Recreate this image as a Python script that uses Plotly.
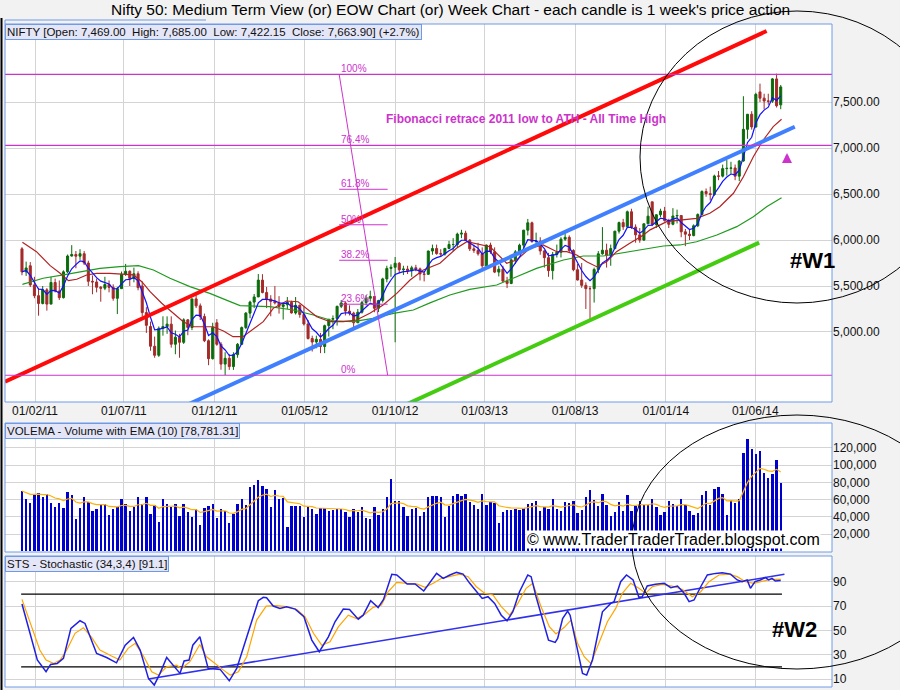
import numpy as np
import pandas as pd
import plotly.graph_objects as go

# weekly candles, the first one is the week starting Monday 10 Jan 2011
first_week = pd.Timestamp("2011-01-10")

nifty_open = [
    5904, 5654, 5720, 5512, 5395, 5310, 5458, 5303, 5538, 5445, 5373, 5654, 5826, 5842, 5824, 5851, 5749, 5551, 5544, 5486,
    5476, 5516, 5485, 5366, 5471, 5627, 5660, 5581, 5633, 5500, 5211, 5060, 4845, 4747, 5040, 5059, 5085, 4867, 4943, 4888,
    5132, 5049, 5360, 5284, 5168, 4905, 4710, 5100, 4866, 4651, 4714,
    4624, 4754, 4866, 5048, 5205, 5325, 5381, 5564, 5429, 5359, 5333, 5317, 5278, 5296, 5322, 5207, 5290, 5190, 5087, 4929,
    4891, 4920, 4842, 5069, 5139, 5146, 5279, 5316, 5227, 5205, 5100, 5215, 5320, 5366, 5386, 5258, 5342, 5577, 5691, 5703,
    5747, 5676, 5684, 5665, 5698, 5686, 5631, 5627, 5880, 5907, 5852, 5847, 5908,
    5951, 5951, 6064, 6074, 5998, 5904, 5887, 5850, 5719, 5945, 5872, 5651, 5683, 5553, 5528, 5784, 5871, 5944, 6107, 6187,
    5983, 5986, 5881, 5808, 5667, 5842, 5867, 6009, 6029, 5886, 5677, 5565, 5507, 5471, 5471, 5680, 5850, 5889, 5833, 5907,
    6096, 6189, 6144, 6307, 6140, 6056, 5999, 6176, 6415, 6168, 6274, 6314,
    6211, 6171, 6261, 6266, 6089, 6063, 6048, 6155, 6277, 6527, 6504, 6494, 6696, 6694, 6776, 6779, 6783, 6694, 6859, 7203,
    7367, 7229, 7610, 7542, 7511, 7509, 7751, 7469,
]
nifty_high = [
    5922, 5765, 5760, 5600, 5480, 5500, 5477, 5599, 5580, 5560, 5670, 5842, 5944, 5880, 5900, 5880, 5775, 5615, 5581, 5500,
    5600, 5560, 5518, 5490, 5657, 5740, 5670, 5700, 5660, 5550, 5270, 5113, 4950, 5060, 5170, 5170, 5170, 5016, 4980, 5149,
    5140, 5360, 5400, 5310, 5200, 4920, 5100, 5140, 4890, 4780, 4760,
    4780, 4880, 5060, 5217, 5340, 5413, 5630, 5629, 5490, 5400, 5499, 5390, 5320, 5380, 5340, 5380, 5300, 5280, 5130, 4960,
    4960, 4990, 5080, 5140, 5180, 5286, 5348, 5330, 5290, 5220, 5250, 5340, 5400, 5449, 5390, 5350, 5590, 5720, 5735, 5815,
    5760, 5720, 5720, 5720, 5730, 5700, 5650, 5885, 5950, 5950, 5900, 5915, 5990,
    6020, 6080, 6111, 6101, 6010, 5950, 5970, 5920, 5950, 5971, 5920, 5720, 5720, 5600, 5800, 5890, 5960, 6110, 6229, 6200,
    6080, 6030, 5890, 5860, 5870, 5950, 6030, 6093, 6050, 5900, 5740, 5750, 5540, 5500, 5700, 5880, 6140, 5960, 5950, 6100,
    6200, 6230, 6320, 6340, 6170, 6130, 6180, 6363, 6415, 6280, 6340, 6360,
    6230, 6346, 6330, 6270, 6120, 6120, 6170, 6290, 6540, 6560, 6580, 6710, 6750, 6820, 6870, 6850, 6820, 6870, 7563, 7370,
    7400, 7600, 7700, 7590, 7590, 7760, 7808, 7685,
]
nifty_low = [
    5617, 5610, 5489, 5367, 5177, 5300, 5232, 5303, 5430, 5348, 5364, 5640, 5819, 5693, 5784, 5728, 5500, 5410, 5431, 5329,
    5455, 5431, 5340, 5195, 5470, 5610, 5500, 5540, 5453, 5168, 4990, 4796, 4720, 4730, 4960, 4980, 4830, 4758, 4720, 4870,
    4965, 5020, 5260, 5130, 4890, 4639, 4700, 4850, 4590, 4531, 4588,
    4588, 4720, 4860, 5032, 5150, 5260, 5380, 5420, 5260, 5171, 5300, 5200, 5135, 5250, 5200, 5190, 5155, 5070, 4918, 4788,
    4823, 4770, 4770, 4950, 5030, 5070, 5260, 5180, 5180, 5032, 5100, 5200, 5290, 5330, 5215, 5216, 5320, 5540, 5600, 4888,
    5640, 5620, 5630, 5600, 5660, 5560, 5550, 5620, 5840, 5840, 5820, 5830, 5900,
    5880, 5920, 6020, 5990, 5880, 5860, 5830, 5670, 5700, 5850, 5640, 5604, 5540, 5477, 5520, 5740, 5860, 5910, 6050, 5970,
    5960, 5840, 5700, 5600, 5570, 5810, 5810, 5990, 5870, 5660, 5560, 5480, 5250, 5119, 5320, 5640, 5840, 5700, 5720, 5900,
    6070, 6110, 6140, 6120, 5970, 5970, 5990, 6170, 6150, 6130, 6250, 6200,
    6130, 6160, 6180, 6030, 5933, 6000, 6040, 6140, 6270, 6470, 6430, 6480, 6650, 6680, 6700, 6720, 6650, 6640, 6850, 7100,
    7200, 7220, 7500, 7420, 7470, 7490, 7440, 7422,
]
nifty_close = [
    5654, 5696, 5512, 5395, 5310, 5458, 5303, 5538, 5445, 5373, 5654, 5826, 5842, 5824, 5851, 5749, 5551, 5544, 5486, 5476,
    5516, 5485, 5366, 5471, 5627, 5660, 5581, 5633, 5482, 5211, 5072, 4845, 4747, 5040, 5059, 5085, 4867, 4943, 4888, 5132,
    5049, 5360, 5284, 5168, 4905, 4710, 5050, 4866, 4651, 4714, 4624,
    4754, 4866, 5048, 5205, 5325, 5381, 5564, 5429, 5359, 5333, 5317, 5278, 5296, 5322, 5207, 5290, 5190, 5087, 4929, 4891,
    4920, 4842, 5069, 5139, 5146, 5279, 5316, 5227, 5205, 5100, 5215, 5320, 5366, 5386, 5258, 5342, 5577, 5691, 5703, 5747,
    5676, 5684, 5665, 5698, 5686, 5631, 5627, 5880, 5907, 5852, 5847, 5908, 5951,
    5951, 6064, 6074, 5998, 5904, 5887, 5850, 5719, 5945, 5872, 5651, 5683, 5553, 5528, 5784, 5871, 5944, 6107, 6187, 5983,
    5986, 5881, 5808, 5667, 5842, 5867, 6009, 6029, 5886, 5677, 5565, 5507, 5471, 5471, 5680, 5850, 5889, 5833, 5907, 6096,
    6189, 6144, 6307, 6140, 6056, 5999, 6176, 6259, 6168, 6274, 6314, 6211,
    6171, 6261, 6266, 6089, 6063, 6048, 6155, 6277, 6527, 6504, 6494, 6696, 6694, 6776, 6779, 6783, 6694, 6859, 7203, 7367,
    7229, 7583, 7542, 7511, 7509, 7751, 7459, 7664,
]
volume = [
    70000, 60700, 56000, 66500, 67600, 63000, 66500, 56000, 51400, 56000, 50600, 68800, 65300, 37400, 50600, 63000, 57200,
    46700, 49000, 54400, 54400, 42000, 49000, 51400, 60700, 54400, 46700, 51400, 63000, 54400, 63000, 42800, 53700, 33900,
    60700, 54400, 51400, 54400, 40900, 54400, 45500, 39800, 49000, 30400, 50600, 52100, 54400, 38600, 49000, 46700, 32400,
    42800, 54400, 60700, 53700, 74600, 76900, 82300, 75800, 72300, 51400, 70800, 60700, 61900, 28100, 52600, 52600, 52600,
    39800, 52600, 49000, 43200, 49800, 49800, 46700, 47500, 49000, 49000, 45900, 39800, 49000, 45900, 51400, 38600, 37400,
    51400, 42000, 49000, 63000, 83900, 58300, 58300, 51400, 40900, 49000, 50200, 40900, 45500, 63000,
    64100, 64100, 63000, 39800, 52600, 64100, 66500, 64100, 66500, 57200, 53700, 49000, 66500, 53700, 57200, 56000, 32700,
    45500, 47900, 47900, 49000, 47900, 50200, 54900, 56000, 58300, 46700, 51400, 49000, 60700, 49000, 46700, 57200, 56000,
    58300, 44400, 47900, 63000, 71100, 59500, 52600, 66500, 53700, 40900, 45500, 57200, 46700, 65300, 46700, 52600, 58300,
    53700, 53700, 60700, 51400, 42000, 45500, 58300, 54900, 52600, 60700, 53700, 46700, 42000, 44400, 65300, 70000, 53700,
    72300, 74600, 66500, 42000, 59500, 56000, 60700, 114100, 130400, 118800, 113000, 116500, 90900, 85100, 89700, 106000,
    78800,
]

# moving averages (week number from first candle, price)
ma_mid_weeks = [0.1, 3.5, 6.8, 9.2, 11.2, 13.2, 15.6, 18, 21.2, 23.6, 26.9, 28.9, 30.9, 33.7, 36.5, 38.9, 41.3, 43.7,
                46.1, 48.6, 50.9, 53.3, 58.2, 60.6, 63.8, 66.6, 68.7, 71.1, 74.3, 77.5, 80.7, 83.9, 87.1, 90.4, 93.6,
                96.8, 100.8, 104.8, 107.3, 110.5, 112.9, 114.5, 116.9, 119.3, 122.5, 125.7, 129, 131.4, 133.8, 136.2,
                138.6, 141, 143.4, 146.6, 149.9, 151.5, 155.5, 158.7, 162.7, 165.9, 168.3, 171.6, 174, 176.4, 178.8,
                181.2, 183.2]
ma_mid_price = [5975, 5873, 5721, 5638, 5558, 5573, 5620, 5638, 5638, 5630, 5620, 5547, 5438, 5312, 5203, 5112, 5057,
                5057, 5057, 5011, 4949, 4949, 5112, 5257, 5337, 5329, 5257, 5166, 5112, 5112, 5130, 5203, 5293, 5420,
                5565, 5674, 5747, 5910, 5981, 5946, 5927, 5855, 5747, 5783, 5910, 5946, 5873, 5873, 5837, 5764, 5710,
                5764, 5873, 5964, 6054, 6110, 6199, 6217, 6236, 6290, 6362, 6508, 6688, 6905, 7087, 7232, 7312]
ma_slow_weeks = [0.1, 5.1, 10, 14.8, 18.8, 23.6, 28.1, 31.7, 35.7, 40.5, 45.3, 50.2, 52.6, 59.8, 65.4, 70.3, 75.1,
                 79.9, 84.7, 89.6, 94.4, 98.4, 103.2, 108, 114.5, 119.3, 124.1, 130.6, 135.4, 140.2, 145, 150, 154.7,
                 158.7, 162.7, 167.6, 172.4, 176.4, 179.6, 183.2]
ma_slow_price = [5518, 5584, 5620, 5656, 5692, 5710, 5721, 5674, 5584, 5493, 5420, 5330, 5286, 5275, 5239, 5185, 5120,
                 5112, 5149, 5203, 5239, 5316, 5402, 5464, 5511, 5601, 5692, 5783, 5826, 5826, 5862, 5900, 5935, 5946,
                 5981, 6054, 6145, 6253, 6362, 6460]

# stochastic (34,3,4)
stoch_k_weeks = [0, 3.7, 5.8, 6.9, 8.5, 10, 11.8, 14, 15.2, 18, 20.4, 22.8, 24.9, 26.9, 28.5, 30.5, 31.9, 33.3, 34.9,
                 36.5, 38.1, 39.1, 40.3, 41.2, 42.9, 44.9, 47.8, 50, 51.8, 55, 57, 58.2, 59, 60.6, 62.2, 63.8, 65.9, 68,
                 69.9, 71.7, 73.9, 75.5, 77.5, 79, 81.1, 82.3, 84.1, 85.9, 87.2, 89.2, 90.4, 92.9, 94.8, 96.9, 98.4,
                 100, 101.6, 103.2, 104.8, 106.4, 108, 109.6, 111, 112.4, 114, 115.6, 117, 118.4, 120, 122, 122.8, 124,
                 125.6, 127, 128.6, 129.2, 130.4, 131.6, 132.2, 133.6, 135.2, 136.2, 137.6, 140, 142, 142.8, 144.4,
                 145.8, 147.4, 148.8, 149.6, 150.8, 152.8, 154.9, 156.5, 158.1, 159.7, 160.9, 162.1, 163.7, 165.3,
                 167.3, 168.9, 170.9, 172.5, 173.7, 174.9, 175.7, 176.8, 178.1, 179.3, 180.1, 180.9, 181.7, 183]
stoch_k = [71.8, 25.7, 16.1, 22.1, 22.9, 27.1, 51.7, 58, 55.8, 31.1, 27.8, 23.4, 37.9, 44.3, 33.9, 10.6, 5.1, 14.7,
           27.8, 21.5, 14.7, 24.9, 25.7, 37.9, 44.8, 18.8, 18, 8.6, 18.8, 53, 74.5, 77.3, 77, 70.1, 68.2, 69.6, 67.6,
           61.3, 42.1, 32.5, 44.8, 57.2, 67.6, 67.3, 59.3, 62.6, 74.5, 68.8, 75.6, 96.2, 95.7, 88.3, 88.3, 82.5, 89.3,
           97, 92.9, 95.7, 97.8, 96.4, 88.8, 81.9, 76.4, 77.8, 72.3, 62.6, 58, 65.4, 81.9, 95.7, 94.3, 77.8, 58.6,
           42.1, 40.2, 43.5, 59.9, 66, 62.6, 39.4, 14.7, 13.3, 25.7, 65.4, 72.3, 73.7, 90.2, 95.7, 91.6, 77.3, 77.8,
           86.6, 88, 88.8, 85.2, 86.6, 80.6, 73.7, 75.1, 86, 95.7, 97, 97.6, 96.4, 91.6, 90.2, 91.6, 84.7, 90.2, 91.6,
           93.5, 91.6, 92.9, 90.7, 91.1]
stoch_d_weeks = [0, 2.7, 4.3, 5.8, 7.6, 9.2, 10.8, 12.8, 14.8, 16.8, 18.8, 21.6, 23.6, 25.6, 27.3, 29.3, 31.3, 32.9,
                 34.9, 37.3, 38.5, 40.5, 42.9, 44.5, 46.9, 48.6, 50.2, 52.2, 54.2, 56.6, 58.9, 61.4, 63.8, 66.3, 68.3,
                 70.3, 72.3, 74.3, 76.3, 78.7, 80.7, 82.7, 84.7, 86.7, 88.3, 90.4, 92.8, 95.2, 97.2, 99.2, 101.2,
                 103.2, 105.6, 107.6, 109.6, 111.6, 113.6, 115.6, 117.6, 119.6, 121.6, 123.2, 125.2, 127.2, 128.8,
                 130.8, 132.4, 134, 135.6, 137.2, 139.2, 141.2, 143.2, 144.8, 146.8, 148.8, 150.4, 152, 154.4, 156.8,
                 159.2, 161.7, 163.7, 165.7, 168.1, 170.5, 172.5, 174.5, 176.5, 178.5, 180.5, 183]
stoch_d = [75.6, 50.4, 33.9, 25.7, 22.9, 25.7, 33.9, 47.7, 52.3, 44.3, 33.9, 29, 25.7, 35.3, 39.4, 29, 16.1, 13.3,
           20.2, 21.5, 18.8, 24.3, 38.5, 28.4, 21.5, 17.4, 13.3, 16.1, 28.4, 58.6, 70.1, 70.4, 69.6, 67.3, 61.3, 47.7,
           37.9, 40.7, 53, 62.6, 59.8, 63.4, 69, 70.9, 81.9, 89.6, 88.8, 88.3, 85.5, 88.8, 92.9, 94.3, 96.4, 94.3, 86,
           80.6, 79.2, 69.6, 62.6, 72.3, 84.7, 88.8, 69.6, 53.1, 47.1, 52.6, 58.6, 39.4, 28.4, 22.9, 39.4, 57.2, 68.2,
           80.6, 88.8, 84.7, 80.6, 86, 88, 86.6, 83.9, 77.8, 81.9, 90.2, 95.7, 96.4, 94.3, 90.2, 88.8, 90.2, 92.1, 92.1]

# hand drawn trend lines (week, value at both ends)
red_channel = ([-4.1, 179.6], [4460, 8272])
blue_channel = ([30.1, 186.4], [4007, 7231])
green_channel = ([83.1, 177.8], [4014, 5971])
stoch_trend = ([30.5, 183.9], [10, 96.2])
stoch_bands = [20, 80]
stoch_band_weeks = [-0.2, 183.3]

# fibonacci retracement 2011 low -> all time high
fib_low, fib_high = 4530, 7801
fib_weeks = [76.5, 88.2]
fib_levels = [0, 23.6, 38.2, 50, 61.8, 76.4, 100]
fib_full_width = [0, 76.4, 100]

x_ticks = ["2011-02-01", "2011-07-01", "2011-12-01", "2012-05-01", "2012-10-01",
           "2013-03-01", "2013-08-01", "2014-01-01", "2014-06-01"]


def wk(w):
    return first_week + pd.to_timedelta(np.asarray(w, dtype=float) * 7, unit="D")


dates = wk(np.arange(len(nifty_close)))
close_s = pd.Series(nifty_close, dtype=float)
ma_fast = close_s.ewm(span=5, adjust=False).mean()
vol_ema = pd.Series(volume, dtype=float).ewm(span=10, adjust=False).mean()

W, H = 900, 690
FONT = "Liberation Sans, Arial, sans-serif"
MAGENTA = "#cc33cc"
GRID = "#d4d4d4"
BORDER = "#6f9ae6"


def px(x):
    return x / W


def py(y):
    return 1 - y / H


fig = go.Figure()

fig.add_trace(go.Candlestick(
    x=dates, open=nifty_open, high=nifty_high, low=nifty_low, close=nifty_close,
    increasing=dict(line=dict(color="#0b6b0b", width=1), fillcolor="#0b6b0b"),
    decreasing=dict(line=dict(color="#a52a2a", width=1), fillcolor="#a52a2a"),
    whiskerwidth=0, xaxis="x", yaxis="y", hoverinfo="skip"))

fig.add_trace(go.Scatter(x=wk(ma_slow_weeks), y=ma_slow_price, mode="lines",
                         line=dict(color="#1f9a1f", width=1.2), xaxis="x", yaxis="y"))
fig.add_trace(go.Scatter(x=wk(ma_mid_weeks), y=ma_mid_price, mode="lines",
                         line=dict(color="#b22222", width=1.2), xaxis="x", yaxis="y"))
fig.add_trace(go.Scatter(x=dates, y=ma_fast, mode="lines",
                         line=dict(color="#1010ff", width=1.2), xaxis="x", yaxis="y"))

for (wks, vals), col in [(red_channel, "#ff0a0a"), (blue_channel, "#4080ff"), (green_channel, "#44cc11")]:
    fig.add_trace(go.Scatter(x=wk(wks), y=vals, mode="lines", line=dict(color=col, width=4),
                             xaxis="x", yaxis="y"))

# fibonacci diagonal
fig.add_trace(go.Scatter(x=wk(fib_weeks), y=[fib_high, fib_low], mode="lines",
                         line=dict(color=MAGENTA, width=1), xaxis="x", yaxis="y"))

# volume panel
fig.add_trace(go.Bar(x=dates, y=volume, width=4 * 86400000, marker=dict(color="#0000cc", line=dict(width=0)),
                     xaxis="x2", yaxis="y2"))
fig.add_trace(go.Scatter(x=dates, y=vol_ema, mode="lines", line=dict(color="#ffb000", width=1.2),
                         xaxis="x2", yaxis="y2"))

# stochastic panel
for lvl in stoch_bands:
    fig.add_trace(go.Scatter(x=wk(stoch_band_weeks), y=[lvl, lvl], mode="lines",
                             line=dict(color="black", width=1.2), xaxis="x3", yaxis="y3"))
fig.add_trace(go.Scatter(x=wk(stoch_trend[0]), y=stoch_trend[1], mode="lines",
                         line=dict(color="#3030ee", width=1.5), xaxis="x3", yaxis="y3"))
fig.add_trace(go.Scatter(x=wk(stoch_d_weeks), y=stoch_d, mode="lines",
                         line=dict(color="#ffa500", width=1.2), xaxis="x3", yaxis="y3"))
fig.add_trace(go.Scatter(x=wk(stoch_k_weeks), y=stoch_k, mode="lines",
                         line=dict(color="#2020e0", width=1.5), xaxis="x3", yaxis="y3"))

shapes = []
annotations = []

# fibonacci levels
for lvl in fib_levels:
    price = fib_low + (fib_high - fib_low) * lvl / 100
    if lvl in fib_full_width:
        shapes.append(dict(type="line", xref="x domain", yref="y", x0=0, x1=1, y0=price, y1=price,
                           line=dict(color=MAGENTA, width=1.2)))
    else:
        shapes.append(dict(type="line", xref="x", yref="y", x0=wk(fib_weeks[0]), x1=wk(fib_weeks[1]),
                           y0=price, y1=price, line=dict(color=MAGENTA, width=1)))
    annotations.append(dict(x=wk(fib_weeks[0]), y=price, xref="x", yref="y", xanchor="left", yanchor="bottom",
                            text=f"{lvl:g}%", showarrow=False, yshift=-2,
                            font=dict(family=FONT, size=10, color=MAGENTA)))

# panel frames
for top, bottom in [(24, 402), (423, 552), (556, 687)]:
    shapes.append(dict(type="rect", xref="paper", yref="paper", x0=px(5), x1=px(832), y0=py(bottom), y1=py(top),
                       line=dict(color=BORDER, width=1)))
shapes.append(dict(type="line", xref="paper", yref="paper", x0=px(5), x1=px(206), y0=py(20), y1=py(20),
                   line=dict(color=BORDER, width=1)))
shapes.append(dict(type="line", xref="paper", yref="paper", x0=px(5), x1=px(5), y0=py(20), y1=py(24),
                   line=dict(color=BORDER, width=1)))
shapes.append(dict(type="line", xref="paper", yref="paper", x0=px(1.5), x1=px(1.5), y0=0, y1=py(18),
                   line=dict(color="black", width=2)))

# hand drawn circles
shapes.append(dict(type="circle", xref="paper", yref="paper", x0=px(640), x1=px(954), y0=py(303), y1=py(11),
                   line=dict(color="black", width=1)))
shapes.append(dict(type="circle", xref="paper", yref="paper", x0=px(632), x1=px(962), y0=py(669), y1=py(415),
                   line=dict(color="black", width=1)))

annotations += [
    dict(x=0.5, y=py(9), xref="paper", yref="paper", xanchor="center", yanchor="middle", showarrow=False,
         text="Nifty 50: Medium Term View (or) EOW Chart (or) Week Chart - each candle is 1 week's price action",
         font=dict(family=FONT, size=15.5, color="black")),
    dict(x=px(5), y=py(24), xref="paper", yref="paper", xanchor="left", yanchor="top", showarrow=False,
         text="NIFTY [Open: 7,469.00 &nbsp;High: 7,685.00 &nbsp;Low: 7,422.15 &nbsp;Close: 7,663.90] (+2.7%)",
         font=dict(family=FONT, size=11.5, color="#111"), bgcolor="#e4e6f8", bordercolor=BORDER,
         borderwidth=1, borderpad=1),
    dict(x=px(5), y=py(423), xref="paper", yref="paper", xanchor="left", yanchor="top", showarrow=False,
         text="VOLEMA - Volume with EMA (10) [78,781.31]",
         font=dict(family=FONT, size=11.5, color="#111"), bgcolor="#e4e6f8", bordercolor=BORDER,
         borderwidth=1, borderpad=1),
    dict(x=px(5), y=py(556), xref="paper", yref="paper", xanchor="left", yanchor="top", showarrow=False,
         text="STS - Stochastic (34,3,4) [91.1]",
         font=dict(family=FONT, size=11.5, color="#111"), bgcolor="#e4e6f8", bordercolor=BORDER,
         borderwidth=1, borderpad=1),
    dict(x=px(526), y=py(119), xref="paper", yref="paper", xanchor="center", yanchor="middle", showarrow=False,
         text="<b>Fibonacci retrace 2011 low to ATH - All Time High</b>",
         font=dict(family=FONT, size=12, color=MAGENTA)),
    dict(x=px(788), y=py(260), xref="paper", yref="paper", xanchor="left", yanchor="middle", showarrow=False,
         text="<b>#W1</b>", font=dict(family=FONT, size=22, color="black")),
    dict(x=px(770), y=py(629), xref="paper", yref="paper", xanchor="left", yanchor="middle", showarrow=False,
         text="<b>#W2</b>", font=dict(family=FONT, size=22, color="black")),
    dict(x=px(673), y=py(539), xref="paper", yref="paper", xanchor="center", yanchor="middle", showarrow=False,
         text="© www.TraderTraderTrader.blogspot.com", bgcolor="white", borderpad=0,
         font=dict(family=FONT, size=16, color="black")),
    dict(x=px(787), y=py(153), xref="paper", yref="paper", ax=0, ay=11, showarrow=True, text="",
         arrowhead=2, arrowsize=0.8, arrowwidth=2.5, arrowcolor=MAGENTA),
]

x_common = dict(type="date", domain=[px(5), px(832)], range=["2010-12-12 08:00", "2014-10-08 14:00"],
                tickvals=x_ticks, showgrid=True, gridcolor=GRID, zeroline=False, ticks="",
                showline=False)
y_common = dict(side="right", showgrid=True, gridcolor=GRID, zeroline=False, ticks="", showline=False,
                tickfont=dict(family=FONT, size=12, color="#111"))

fig.update_layout(
    width=W, height=H, autosize=False,
    margin=dict(l=0, r=0, t=0, b=0),
    paper_bgcolor="#f2f2f2", plot_bgcolor="white",
    showlegend=False, bargap=0,
    font=dict(family=FONT, size=12, color="#111"),
    xaxis=dict(**x_common, anchor="y", tickformat="%d/%m/%y", rangeslider=dict(visible=False),
               tickfont=dict(family=FONT, size=12, color="#111")),
    xaxis2=dict(**x_common, anchor="y2", matches="x", showticklabels=False),
    xaxis3=dict(**x_common, anchor="y3", matches="x", showticklabels=False),
    yaxis=dict(**y_common, anchor="x", domain=[py(402), py(24)], range=[4239, 8348],
               tickvals=[5000, 5500, 6000, 6500, 7000, 7500], tickformat=",.2f"),
    yaxis2=dict(**y_common, anchor="x2", domain=[py(552), py(423)], range=[-900, 149000],
                tickvals=[20000, 40000, 60000, 80000, 100000, 120000], tickformat=",d"),
    yaxis3=dict(**y_common, anchor="x3", domain=[py(687), py(556)], range=[3.5, 111.3],
                tickvals=[10, 30, 50, 70, 90]),
    shapes=shapes,
    annotations=annotations,
)

# drop the page's default body margin so the figure sits at the window's top-left corner
fig.write_html("out.html", config={"displayModeBar": False},
               post_script="document.body.style.margin='0';document.body.style.overflow='hidden';")
